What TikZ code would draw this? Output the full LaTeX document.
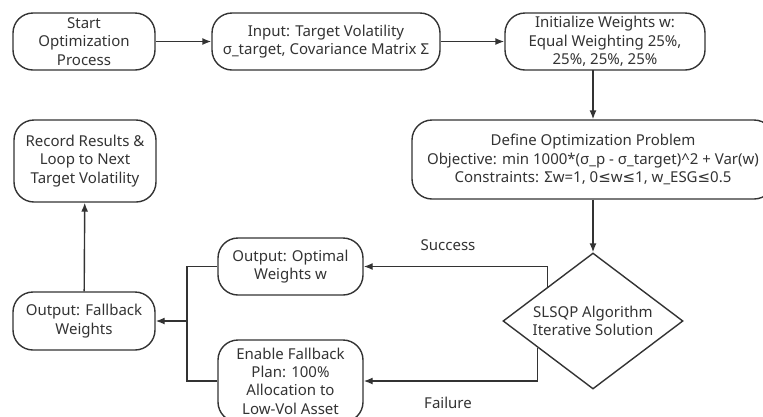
\documentclass[tikz,border=0pt]{standalone}
\usepackage{fontspec}
\setmainfont{Noto Sans}
\newfontfamily\symfont{DejaVu Sans}
\newcommand{\leqsym}{{\symfont ≤}}
\usetikzlibrary{shapes.geometric,arrows.meta,calc}
\definecolor{ln}{HTML}{333333}
\definecolor{tx}{HTML}{333333}
\tikzset{
  box/.style={draw=ln, line width=1.4pt, rounded corners=20pt, align=center, text=tx,
    inner sep=0pt, font=\fontsize{15}{18.4}\selectfont},
  conn/.style={draw=ln, line width=1.4pt, -{Latex[length=9pt,width=7pt]}},
  plain/.style={draw=ln, line width=1.4pt},
  lbl/.style={text=tx, font=\fontsize{15}{18.4}\selectfont}
}
\begin{document}
\begin{tikzpicture}[x=1pt,y=-1pt]
\useasboundingbox (0,0) rectangle (763,416);
\clip (0,0) rectangle (763,416);
\node[box, minimum width=142pt, minimum height=57pt] (start) at (84,41.5) {Start\\Optimization\\Process};
\node[box, minimum width=228pt, minimum height=57pt] (input) at (326,41.5) {Input: Target Volatility\\σ\_target, Covariance Matrix Σ};
\node[box, minimum width=200pt, minimum height=57pt] (init) at (605,41.5) {Initialize Weights w:\\Equal Weighting 25\%,\\25\%, 25\%, 25\%};
\node[box, minimum width=362pt, minimum height=79pt] (def) at (593,159.5) {Define Optimization Problem\\Objective: min 1000*(σ\_p - σ\_target)\^{}2 + Var(w)\\Constraints: Σw=1, 0\leqsym w\leqsym 1, w\_ESG\leqsym 0.5};
\node[draw=ln, line width=1.4pt, inner sep=0pt, text=tx, align=center,
  font=\fontsize{15}{18.4}\selectfont,
  shape=diamond, minimum width=180pt, minimum height=136pt, aspect=1.32] (dia) at (593,321) {SLSQP Algorithm\\Iterative Solution};
\node[box, minimum width=145pt, minimum height=57pt] (opt) at (290.5,266.5) {Output: Optimal\\Weights w};
\node[box, minimum width=145pt, minimum height=82pt] (enable) at (290.5,381) {Enable Fallback\\Plan: 100\%\\Allocation to\\Low-Vol Asset};
\node[box, minimum width=142pt, minimum height=58pt] (fb) at (84,321) {Output: Fallback\\Weights};
\node[box, minimum width=142pt, minimum height=82pt] (rec) at (85,161) {Record Results \&\\Loop to Next\\Target Volatility};

\node[lbl] (succ) at (448,245) {Success};
\node[lbl] (fail) at (448,403) {Failure};

\coordinate (initout) at (593,70);
\coordinate (sa) at ($(dia.north)!0.5!(dia.west)$);
\coordinate (fa) at ($(dia.west)!0.39!(dia.south)$);
\coordinate (jn) at (187,321);

\draw[conn] (start) -- (input);
\draw[conn] (input) -- (init);
\draw[conn] (initout) -- (def.north -| initout);
\draw[conn] (def) -- (dia);
\draw[conn] (sa) |- (opt.east);
\draw[conn] (fa) |- (enable.east);
\draw[plain] (opt.west) -| (jn);
\draw[plain] (enable.west) -| (jn);
\draw[conn] (jn) -- (fb.east);
\draw[conn] (fb) -- (rec);
\end{tikzpicture}
\end{document}
